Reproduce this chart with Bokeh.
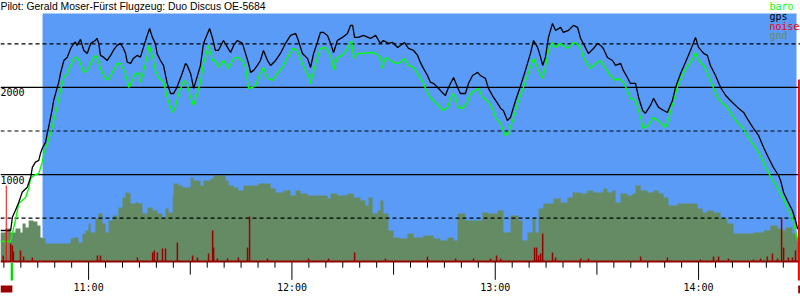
from bokeh.plotting import figure
from bokeh.embed import file_html
from bokeh.resources import INLINE
from bokeh.models import BoxAnnotation
from bokeh.core.properties import value

# ---------------- data (time = minutes after 10:00, altitude in m) ----------------
title_text = "Pilot: Gerald Moser-Fürst Flugzeug: Duo Discus OE-5684"
series_names = ["baro", "gps", "noise", "gnd"]

gps_t = [34.0, 37.0, 37.5, 38.4, 39.4, 40.4, 41.9, 42.9, 43.4, 44.3, 45.3, 45.8, 46.3, 47.3, 47.8, 48.3,
         48.8, 49.3, 49.7, 50.5, 51.2, 51.7, 52.7, 53.7, 54.7, 55.6, 56.1, 56.6, 57.6, 58.6, 59.6, 60.6,
         62.0, 62.5, 63.0, 63.5, 64.4, 65.5, 66.5, 67.3, 68.4, 69.4, 70.3, 70.9, 71.4, 72.4, 73.2, 74.3,
         75.3, 76.2, 77.3, 78.0, 78.8, 79.7, 80.2, 81.2, 82.1, 83.2, 84.2, 85.1, 86.1, 87.6, 88.6, 89.1,
         90.1, 91.0, 92.0, 93.0, 93.9, 95.1, 95.7, 96.6, 97.4, 98.3, 99.8, 101.0, 101.9, 102.8, 103.9,
         105.4, 106.3, 107.2, 107.8, 108.7, 109.8, 110.7, 111.6, 112.8, 113.7, 115.2, 116.6, 118.1, 119.6,
         121.1, 121.9, 123.1, 124.6, 125.5, 126.4, 127.5, 128.4, 129.3, 130.5, 131.4, 132.3, 133.4, 134.9,
         136.4, 137.3, 137.9, 138.5, 139.6, 141.1, 143.2, 144.7, 146.1, 147.0, 148.5, 149.7, 151.2, 152.0,
         153.2, 154.4, 155.9, 157.1, 157.9, 158.8, 160.0, 160.9, 161.8, 163.0, 164.4, 165.3, 166.2, 167.7,
         168.9, 169.7, 171.2, 172.1, 173.3, 174.8, 175.6, 177.1, 178.0, 179.5, 180.7, 181.6, 182.4, 183.6,
         184.5, 186.0, 187.5, 188.9, 190.4, 191.3, 192.5, 193.4, 194.0, 194.8, 195.7, 196.9, 197.8, 199.3,
         200.1, 201.6, 203.1, 204.3, 205.2, 206.6, 207.5, 209.0, 210.2, 211.1, 211.9, 213.1, 214.6, 215.5,
         217.0, 217.8, 219.0, 219.9, 221.4, 222.3, 223.5, 224.3, 225.8, 226.7, 228.2, 229.7, 230.8, 232.3,
         233.2, 234.7, 236.1, 237.6, 239.1, 240.0, 241.5, 242.6, 243.5, 245.0, 246.5, 248.0, 249.4, 251.5,
         253.3, 254.7, 256.2, 257.7, 259.2, 260.6, 262.1, 263.6, 264.2, 265.1, 266.2, 267.7, 268.6, 269.2,
         270.1]
gps_alt = [357, 357, 508, 587, 681, 796, 853, 968, 1083, 1142, 1162, 1242, 1299, 1372, 1472, 1563,
           1659, 1759, 1851, 1966, 2061, 2161, 2310, 2348, 2448, 2506, 2521, 2483, 2552, 2425, 2391, 2506,
           2540, 2563, 2506, 2368, 2348, 2310, 2368, 2425, 2483, 2506, 2448, 2391, 2291, 2276, 2334, 2368,
           2348, 2463, 2598, 2678, 2578, 2506, 2391, 2310, 2253, 2046, 1931, 1931, 2004, 2161, 2276, 2253,
           2161, 1989, 2119, 2253, 2506, 2621, 2678, 2563, 2425, 2425, 2540, 2460, 2402, 2483, 2540,
           2506, 2391, 2276, 2173, 2196, 2253, 2310, 2425, 2310, 2253, 2310, 2391, 2506, 2598,
           2621, 2540, 2391, 2334, 2230, 2391, 2517, 2632, 2632, 2598, 2506, 2402, 2540, 2575,
           2621, 2713, 2713, 2575, 2575, 2598, 2563, 2598, 2506, 2540, 2506, 2517, 2460, 2483,
           2517, 2448, 2425, 2368, 2288, 2219, 2138, 2058, 2046, 2000, 1943, 1908, 2000, 2115,
           2000, 1931, 1931, 2046, 2138, 2173, 2138, 2104, 1989, 1885, 1817, 1759, 1736, 1621,
           1656, 1851, 2023, 2196, 2391, 2540, 2460, 2345, 2253, 2345, 2575, 2736, 2655, 2690,
           2632, 2655, 2713, 2690, 2563, 2460, 2391, 2448, 2506, 2483, 2448, 2345, 2310, 2253,
           2276, 2196, 2115, 2046, 2046, 1885, 1736, 1702, 1794, 1874, 1771, 1736, 1713, 1851,
           2000, 2161, 2288, 2425, 2575, 2460, 2391, 2368, 2253, 2138, 2000, 1908, 1851, 1771,
           1713, 1621, 1529, 1449, 1311, 1196, 1081, 989, 932, 794, 702, 587, 472, 380,
           380]

baro_t = [34.0, 37.0, 37.5, 38.4, 39.4, 40.4, 41.4, 42.4, 42.9, 43.8, 45.3, 46.3, 46.8, 47.8, 48.8, 49.7,
          50.7, 51.7, 52.7, 53.7, 54.7, 55.6, 56.6, 57.6, 58.6, 59.6, 60.6, 62.0, 62.5, 63.5, 64.5, 65.5,
          66.5, 67.4, 68.4, 69.4, 70.9, 71.9, 72.9, 73.8, 74.8, 75.3, 76.3, 77.3, 77.8, 78.8, 79.7, 80.7,
          82.2, 83.2, 84.2, 84.7, 85.6, 86.6, 88.1, 89.1, 90.1, 91.0, 92.0, 93.0, 93.9, 95.4, 96.6, 97.4,
          98.3, 99.8, 101.3, 102.8, 104.2, 105.4, 106.3, 107.2, 108.4, 109.3, 110.1, 111.6, 112.8, 114.3,
          115.7, 117.2, 118.7, 120.2, 121.6, 123.1, 124.0, 124.9, 125.5, 127.0, 128.4, 129.9, 130.8, 132.0,
          132.3, 133.4, 134.9, 136.4, 137.6, 138.2, 139.4, 141.1, 143.2, 144.7, 146.1, 146.7, 147.6, 149.1,
          150.6, 152.0, 153.2, 154.4, 155.9, 157.4, 158.5, 159.4, 160.9, 162.4, 163.8, 164.7, 165.9, 167.4,
          168.3, 169.2, 170.3, 171.8, 172.7, 174.2, 175.1, 176.2, 177.7, 179.2, 180.1, 181.6, 183.0, 183.9,
          185.4, 186.9, 188.3, 189.8, 191.3, 192.8, 194.0, 194.8, 195.7, 196.9, 197.8, 199.3, 201.3, 202.8,
          203.7, 205.2, 206.0, 208.1, 209.0, 211.1, 212.5, 214.0, 215.5, 216.4, 217.8, 219.0, 219.9, 221.4,
          222.9, 223.7, 225.2, 226.7, 228.8, 230.2, 231.1, 232.6, 234.1, 235.6, 237.0, 238.5, 239.1, 240.0,
          241.5, 242.6, 244.1, 245.6, 247.1, 248.5, 250.0, 251.5, 253.0, 254.4, 255.9, 257.4, 258.9, 260.3,
          261.8, 263.3, 264.8, 266.2, 267.7, 268.6, 269.2, 270.1]
baro_alt = [231, 231, 323, 472, 668, 702, 737, 851, 955, 989, 1012, 1139, 1242, 1357, 1472, 1621,
            1771, 1966, 2115, 2161, 2253, 2334, 2345, 2276, 2173, 2196, 2276, 2368, 2345, 2219, 2138, 2081,
            2138, 2196, 2276, 2276, 2161, 2000, 2081, 2161, 2161, 2058, 2196, 2368, 2483, 2368, 2196, 2115,
            2058, 1885, 1771, 1713, 1771, 1931, 2081, 2046, 1885, 1794, 1931, 2058, 2276, 2483, 2310, 2310,
            2230, 2310, 2219, 2334, 2345, 2310, 2230, 1989, 2000, 2023, 2115, 2230, 2104, 2081,
            2161, 2230, 2345, 2448, 2425, 2276, 2196, 2138, 2046, 2276, 2448, 2460, 2402, 2310,
            2196, 2345, 2368, 2448, 2540, 2334, 2391, 2391, 2402, 2391, 2345, 2219, 2345, 2310,
            2276, 2288, 2334, 2253, 2230, 2138, 2081, 1989, 1885, 1828, 1771, 1736, 1771, 1931,
            1885, 1771, 1759, 1828, 1931, 1966, 1989, 1885, 1851, 1759, 1656, 1587, 1449, 1472,
            1656, 1851, 2000, 2173, 2334, 2196, 2104, 2230, 2425, 2517, 2460, 2506, 2448, 2506,
            2517, 2460, 2345, 2219, 2253, 2310, 2219, 2138, 2081, 2104, 2058, 1966, 1874, 1851,
            1656, 1529, 1564, 1656, 1598, 1541, 1621, 1851, 2046, 2173, 2253, 2345, 2402, 2310,
            2253, 2173, 2023, 1885, 1817, 1771, 1679, 1598, 1541, 1449, 1357, 1276, 1162, 1047,
            932, 851, 737, 622, 495, 357, 242, 242]

gnd_t = [34.0, 35.5, 37.0, 38.4, 39.9, 40.5, 41.4, 42.3, 43.7, 44.9, 45.8, 46.4, 47.3, 52.6, 54.7, 55.5,
         57.0, 58.2, 59.1, 60.0, 60.6, 62.0, 62.9, 64.1, 65.0, 65.9, 67.1, 68.5, 68.8, 70.0, 70.9, 71.8,
         72.4, 73.8, 74.7, 75.9, 76.8, 77.4, 78.9, 80.3, 81.8, 82.7, 83.6, 84.8, 85.1, 86.5, 87.7, 89.2,
         90.1, 91.0, 92.1, 93.0, 93.9, 96.0, 96.9, 98.9, 100.4, 101.3, 102.8, 104.2, 105.7, 108.7, 110.1,
         112.8, 113.7, 115.2, 117.5, 119.6, 121.1, 122.5, 124.6, 127.5, 130.5, 131.4, 133.4, 136.4, 138.2,
         140.2, 141.7, 142.6, 143.8, 145.3, 146.1, 147.0, 148.5, 150.0, 152.0, 154.1, 155.9, 158.8, 161.8,
         163.8, 165.9, 167.7, 168.9, 171.2, 174.8, 176.2, 178.0, 180.7, 182.4, 184.5, 186.9, 188.0, 189.5,
         191.0, 191.9, 192.8, 194.2, 197.2, 199.3, 201.3, 202.8, 205.2, 207.2, 209.0, 211.1, 211.9, 213.1,
         214.6, 215.5, 217.0, 219.0, 220.5, 221.4, 222.9, 224.9, 226.7, 228.2, 229.7, 231.1, 233.8, 237.6,
         239.7, 241.2, 242.6, 244.4, 246.5, 248.5, 250.3, 253.3, 256.2, 259.2, 261.2, 263.3, 264.8, 265.7,
         267.7, 268.6, 270.1]
gnd_alt = [334, 380, 334, 380, 334, 438, 392, 472, 461, 415, 277, 265, 208, 208, 265, 277,
           219, 323, 357, 438, 334, 495, 553, 438, 334, 472, 530, 507, 622, 737, 794, 782,
           668, 679, 668, 553, 553, 622, 587, 553, 507, 610, 564, 760, 897, 874, 851, 851,
           966, 932, 932, 874, 932, 955, 989, 989, 932, 874, 851, 817, 874, 874, 897,
           897, 840, 794, 817, 760, 817, 782, 760, 760, 725, 782, 760, 782, 737,
           702, 645, 737, 553, 587, 702, 553, 357, 277, 265, 323, 277, 300, 265,
           242, 277, 242, 553, 472, 472, 564, 553, 587, 334, 530, 472, 242, 334,
           507, 334, 610, 668, 725, 679, 737, 794, 782, 817, 794, 794, 840, 794,
           817, 679, 782, 760, 782, 874, 817, 794, 817, 782, 737, 645, 668, 668,
           610, 564, 587, 564, 495, 438, 323, 323, 334, 357, 415, 380, 357, 392,
           323, 277, 277]

noise_t = [34.8, 37.0, 37.5, 37.8, 39.9, 40.8, 43.4, 62.6, 63.5, 74.4, 78.9, 79.4, 80.3, 81.8, 82.7,
           86.2, 90.7, 92.1, 95.4, 96.6, 96.9, 98.0, 101.0, 104.2, 106.9, 107.5, 112.8, 124.9, 130.8,
           138.5, 147.6, 160.0, 168.3, 173.6, 178.6, 180.4, 181.6, 191.6, 192.2, 192.8, 193.4, 194.0,
           196.9, 197.8, 205.2, 207.5, 222.9, 230.8, 240.6, 244.4, 245.9, 248.8, 256.2, 258.3, 260.3,
           261.8, 263.3, 264.5, 265.1, 266.5, 267.7, 268.6]
noise_lvl = [70, 208, 185, 115, 127, 58, 47, 70, 70, 47, 104, 127, 104, 150, 150,
             219, 70, 47, 93, 357, 162, 35, 35, 47, 162, 518, 35, 35, 35,
             104, 35, 58, 35, 35, 35, 70, 35, 162, 162, 70, 93, 323,
             104, 47, 35, 35, 58, 47, 24, 58, 58, 35, 24, 35, 58,
             93, 35, 507, 162, 47, 47, 127]

takeoff_t = 35.7
release_t = [37.0, 37.7]
landing_t = 269.6
task_window = [46.4, 268.9]

hour_ticks = [60, 120, 180, 240]
hour_labels = ["11:00", "12:00", "13:00", "14:00"]
half_ticks = [90, 150, 210]
minor_ticks = [m for m in range(35, 270, 5) if m % 30 != 0]
grid_solid = [1000, 2000]
grid_dashed = [500, 1500, 2500]
alt_labels = ["1000", "2000"]

# ---------------- figure ----------------
T0, T1 = 34.0, 270.08
p = figure(width=800, height=300, x_range=(T0, T1), y_range=(-447, 2999),
           output_backend="svg", toolbar_location=None, min_border=0)
p.xaxis.visible = False
p.yaxis.visible = False
p.xgrid.visible = False
p.ygrid.visible = False
p.outline_line_color = None
p.background_fill_color = "white"
p.border_fill_color = "white"

BLUE = "#5A9BF8"
GND = "#658B65"
NOISE = "#990000"
MONO = value("DejaVu Sans Mono")

p.add_layout(BoxAnnotation(left=task_window[0], right=task_window[1], bottom=0, top=2850,
                           fill_color=BLUE, fill_alpha=1.0, line_color=None, level="underlay"))

p.varea_step(x=gnd_t, y1=[0] * len(gnd_t), y2=gnd_alt, step_mode="after", fill_color=GND)

p.segment(x0=[T0] * 2, x1=[T1] * 2, y0=grid_solid, y1=grid_solid, line_color="black", line_width=1.2)
p.segment(x0=[T0] * 3, x1=[T1] * 3, y0=grid_dashed, y1=grid_dashed, line_color="black",
          line_width=1.2, line_dash="4 3")

# noise
p.segment(x0=noise_t, x1=noise_t, y0=[0] * len(noise_t), y1=noise_lvl, line_color=NOISE, line_width=1.5)
p.segment(x0=[T0], x1=[T1], y0=[0], y1=[0], line_color=NOISE, line_width=2)

p.line(baro_t, baro_alt, line_color="#00FF00", line_width=1.4)
p.line(gps_t, gps_alt, line_color="black", line_width=1.3)

# markers
p.segment(x0=[takeoff_t], x1=[takeoff_t], y0=[0], y1=[874], line_color="#FF0000", line_width=1)
p.quad(left=[release_t[0]], right=[release_t[1]], bottom=[-217], top=[-12], fill_color="#00DD00", line_color=None)
p.quad(left=[T0], right=[37.5], bottom=[-355], top=[-275], fill_color=NOISE, line_color=None)
p.segment(x0=[landing_t], x1=[landing_t], y0=[-217], y1=[2092], line_color="#FF0000", line_width=2)
p.quad(left=[269.4], right=[T1], bottom=[-365], top=[-275], fill_color=NOISE, line_color=None)

# time axis ticks
p.segment(x0=minor_ticks, x1=minor_ticks, y0=[0] * len(minor_ticks), y1=[-70] * len(minor_ticks),
          line_color="black", line_width=1)
p.segment(x0=half_ticks, x1=half_ticks, y0=[0] * 3, y1=[-150] * 3, line_color="black", line_width=1)
p.segment(x0=hour_ticks, x1=hour_ticks, y0=[0] * 4, y1=[-210] * 4, line_color="black", line_width=1)
p.text(x=hour_ticks, y=[-235] * 4, text=hour_labels, text_align="center", text_baseline="top",
       text_font=MONO, text_font_size="10px", text_color="black")

# altitude labels
p.text(x=[T0, T0], y=grid_solid, text=alt_labels, text_align="left", text_baseline="top",
       y_offset=1, text_font=MONO, text_font_size="10px", text_color="black")

# title
p.text(x=[T0], y=[2999], text=[title_text], text_align="left", text_baseline="top",
       text_font=value("Liberation Sans"), text_font_size="10.4px", text_color="black")

# legend
p.text(x=[260.9] * 4, y=[2993, 2881, 2768, 2655], text=series_names, text_align="left",
       text_baseline="top", text_font=MONO, text_font_size="10px",
       text_color=["#00FF00", "black", "#FF0000", GND])

open("out.html", "w").write(file_html(p, INLINE))
